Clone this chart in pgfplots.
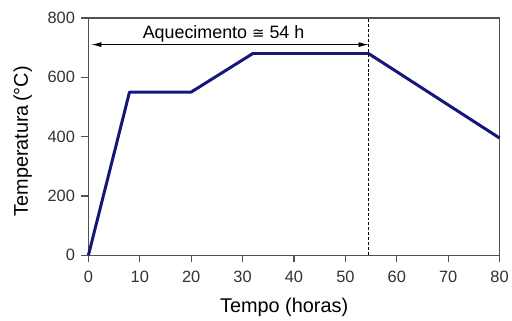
\documentclass[border=0pt]{standalone}
\usepackage{fontspec}
\setmainfont{Liberation Sans}
\newfontfamily\dejavu{DejaVu Sans}
\usepackage{pgfplots}
\pgfplotsset{compat=1.18}
\usetikzlibrary{arrows.meta}
\definecolor{navyline}{RGB}{22,22,122}
\definecolor{axgray}{RGB}{80,80,80}
\definecolor{lblgray}{RGB}{50,50,50}
\begin{document}
\begin{tikzpicture}
\path (-89pt,-64pt) rectangle (423pt,257pt);
\begin{axis}[
  at={(0,0)}, anchor=south west,
  scale only axis, width=414pt, height=239pt,
  xmin=0, xmax=80, ymin=0, ymax=800,
  xtick={0,10,...,80}, ytick={0,200,...,800},
  tick align=outside, tick pos=left,
  major tick length=7pt,
  tick style={draw=axgray, line width=1.3pt},
  axis line style={draw=axgray, line width=1.5pt},
  ticklabel style={font=\fontsize{16.5}{19}\selectfont, text=lblgray},
  xticklabel style={yshift=-5pt},
  yticklabel style={xshift=-3pt},
  /pgf/number format/assume math mode=true,
  clip=false,
  xlabel={Tempo (horas)},
  ylabel={Temperatura\,(°C)},
  xlabel style={at={(axis description cs:0.476,0)}, anchor=base, yshift=-58pt, font=\fontsize{20}{24}\selectfont},
  ylabel style={at={(axis description cs:-0.147,0.48)}, anchor=base, font=\fontsize{20}{24}\selectfont},
]
\addplot[navyline, line width=3pt, line join=round] coordinates {
  (0,0) (8,550) (20,550) (32,680) (54.5,680) (80,395)
};
\addplot[black, line width=0.8pt, dash pattern=on 3pt off 2pt] coordinates {
  (54.5,0) (54.5,800)
};
\addplot[black, line width=0.8pt, {Latex[length=10pt,width=5pt]}-{Latex[length=10pt,width=5pt]}] coordinates {
  (0.6,710) (54.5,710)
};
\node[font=\fontsize{18}{21}\selectfont, anchor=base] at (axis cs:26.3,730) {Aquecimento {\dejavu\fontsize{15}{18}\selectfont ≅} 54 h};
\end{axis}
\end{tikzpicture}
\end{document}
